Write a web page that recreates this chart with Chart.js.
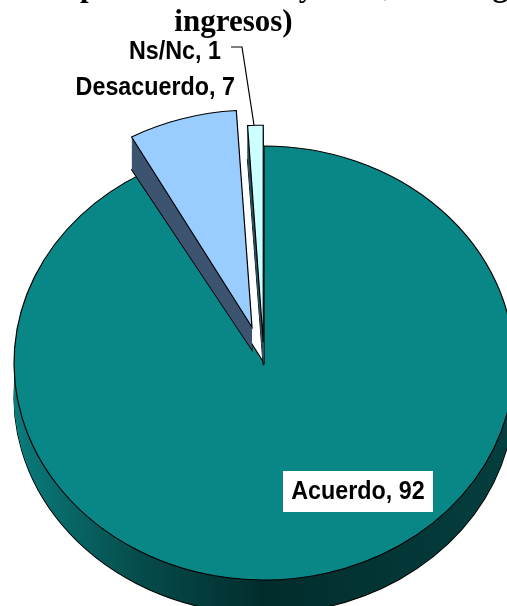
<!DOCTYPE html>
<html>
<head>
<meta charset="utf-8">
<style>
  html, body { margin: 0; padding: 0; background: #fff; overflow: hidden; }
  #wrap { width: 507px; height: 606px; overflow: hidden; position: relative; }
  #pie { position: absolute; left: -166px; top: -40px; }
</style>
<script src="https://cdn.jsdelivr.net/npm/chart.js@4/dist/chart.umd.min.js"></script>
</head>
<body>
<div id="wrap"><canvas id="pie" width="800" height="800"></canvas></div>
<script>
const categories = ['Acuerdo', 'Desacuerdo', 'Ns/Nc'];
const values = [92, 7, 1];
// first title line is cropped in the source, only the descenders show
const titleCropped = 'p' + ' '.repeat(26) + 'y' + ' '.repeat(9) + ',' + ' '.repeat(13) + 'g';
const titleLast = 'ingresos)';

const topColors = ['#098787', '#99ccff', '#ccffff'];
const sideColors = [null, '#3d5470', '#2e5560'];
const sliceShift = [0, 43, 24];

// canvas is bigger than the window, the pie runs off the right edge
const shiftX = 166;
const shiftY = 40;
const ellipseY = 0.868;
const depth = 34;
const apexDepth = 23; // exploded slices: side is shorter at the tip than at the rim
const labelFont = 'bold 26.5px "Liberation Sans", sans-serif';
const titleFont = 'bold 31px "Liberation Serif", serif';
const labelSqueeze = 0.88;

function tealSide(ctx) {
  const g = ctx.createLinearGradient(13 + shiftX, 0, 515 + shiftX, 0);
  g.addColorStop(0, '#0a7c7c');
  g.addColorStop(0.25, '#064c4c');
  g.addColorStop(0.5, '#022c2c');
  g.addColorStop(1, '#053f3f');
  return g;
}

function narrowText(ctx, text, x, y, align) {
  ctx.save();
  ctx.translate(x + shiftX, y + shiftY);
  ctx.scale(labelSqueeze, 1);
  ctx.textAlign = align;
  ctx.fillText(text, 0, 0);
  ctx.restore();
}

// squash the circle into an ellipse and extrude each slice downwards.
// chart.js offset also grows the radius, so slices are moved out here instead
const pie3d = {
  id: 'pie3d',
  beforeDatasetDraw(chart) {
    const ctx = chart.ctx;
    const arcs = chart.getDatasetMeta(0).data;
    arcs.forEach((arc, i) => {
      const face = arc.options;
      const side = sideColors[i] || tealSide(ctx);
      const mid = (arc.startAngle + arc.endAngle) / 2;
      const dx = Math.cos(mid) * sliceShift[i];
      const dy = Math.sin(mid) * sliceShift[i] * ellipseY;
      const exploded = sliceShift[i] > 0;
      const squeeze = (depth - apexDepth) / (arc.outerRadius * ellipseY);
      for (let d = depth; d >= 0; d--) {
        const t = d / depth;
        ctx.save();
        ctx.translate(arc.x + dx, arc.y + dy + (exploded ? t * apexDepth : d));
        ctx.scale(1, ellipseY * (exploded ? 1 - t * squeeze : 1));
        ctx.translate(-arc.x, -arc.y);
        if (d > 0) {
          arc.options = Object.assign({}, face, {
            backgroundColor: side,
            borderWidth: d === depth ? 1.2 : 0
          });
        }
        arc.draw(ctx);
        arc.options = face;
        ctx.restore();
      }
    });
    return false;
  },
  afterDatasetsDraw(chart) {
    const ctx = chart.ctx;
    ctx.save();
    ctx.fillStyle = '#000';
    ctx.font = titleFont;
    ctx.textBaseline = 'alphabetic';
    ctx.textAlign = 'left';
    ctx.fillText(titleCropped, 80 + shiftX, -4 + shiftY);
    ctx.textAlign = 'center';
    ctx.fillText(titleLast, 233.5 + shiftX, 31 + shiftY);

    ctx.font = labelFont;
    ctx.textBaseline = 'middle';
    ctx.fillStyle = '#fff';
    ctx.fillRect(283 + shiftX, 471 + shiftY, 150, 41);
    ctx.fillStyle = '#000';
    narrowText(ctx, categories[0] + ', ' + values[0], 358, 492, 'center');
    narrowText(ctx, categories[1] + ', ' + values[1], 235, 88, 'right');
    narrowText(ctx, categories[2] + ', ' + values[2], 221, 52, 'right');
    ctx.strokeStyle = '#000';
    ctx.lineWidth = 1.2;
    ctx.beginPath();
    ctx.moveTo(231 + shiftX, 47 + shiftY);
    ctx.lineTo(242 + shiftX, 47 + shiftY);
    ctx.lineTo(254 + shiftX, 125 + shiftY);
    ctx.stroke();
    ctx.restore();
  }
};

new Chart(document.getElementById('pie'), {
  type: 'pie',
  data: {
    labels: categories,
    datasets: [{
      data: values,
      backgroundColor: topColors,
      borderColor: '#000',
      borderWidth: 1.2,
      borderJoinStyle: 'miter'
    }]
  },
  options: {
    responsive: false,
    animation: false,
    layout: { padding: { left: 179.4, right: 119.4, top: 100, bottom: 94 } },
    plugins: {
      legend: { display: false },
      tooltip: { enabled: false }
    }
  },
  plugins: [pie3d]
});
</script>
</body>
</html>
